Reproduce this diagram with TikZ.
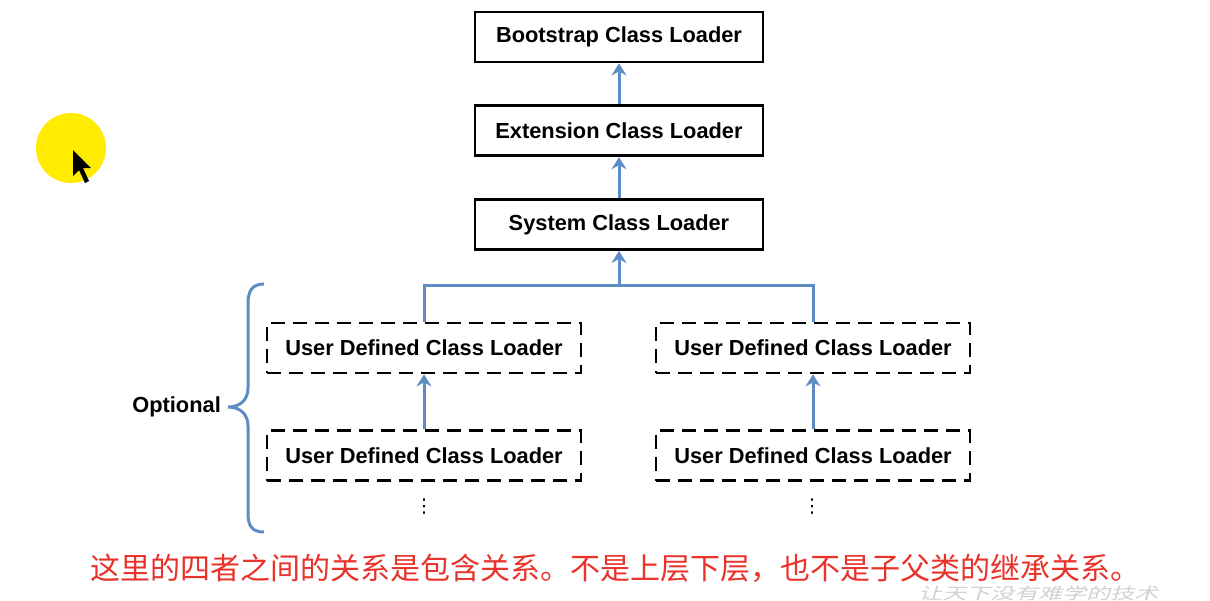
\documentclass[tikz,border=0pt]{standalone}
\usepackage{fontspec}
\setmainfont{Liberation Sans}
\newfontfamily\cjkfont{Noto Sans CJK SC}
\newfontfamily\markfont[FakeSlant=0.2]{Noto Sans CJK SC}
\newfontfamily\symfont{DejaVu Sans}
\usepackage{xcolor}
\usepackage{tikz}
\usetikzlibrary{arrows.meta,positioning}

\definecolor{linkblue}{RGB}{94,141,197}
\definecolor{notered}{RGB}{232,50,42}
\definecolor{spot}{RGB}{255,236,0}

\begin{document}
\begin{tikzpicture}[
  x=1pt, y=-1pt,
  node distance=41pt,
  loader/.style={draw, line width=2.8pt, minimum width=288pt, minimum height=50pt, font=\fontsize{21.8}{24}\selectfont\bfseries},
  userloader/.style={loader, dash pattern=on 14pt off 8pt, minimum width=314pt},
  link/.style={line width=3pt, linkblue},
  arr/.style={link, -{Stealth[length=12pt,width=15pt,inset=4pt]}},
  more/.style={inner sep=0, font=\symfont\fontsize{19}{20}\selectfont}
]
\useasboundingbox[fill=white] (0,0) rectangle (1210,600);

% cursor highlight
\fill[spot] (71,148) circle (35pt);
\fill[black] (73,150) -- (73,176) -- (79,170) -- (85,183) -- (89,181) -- (83,168) -- (91,168) -- cycle;

% loader chain
\node[loader] (boot) at (619,37) {Bootstrap Class Loader};
\node[loader, below=of boot] (ext) {Extension Class Loader};
\node[loader, below=of ext] (sys) {System Class Loader};

\node[userloader] (ul1) at (424,348) {User Defined Class Loader};
\node[userloader, below=55pt of ul1] (ul2) {User Defined Class Loader};
\node[userloader] (ur1) at (813,348) {User Defined Class Loader};
\node[userloader, below=55pt of ur1] (ur2) {User Defined Class Loader};

\node[more] (ldots) at (424,507) {⋮};
\node[more] (rdots) at (812,507) {⋮};

\draw[arr] (ext) -- (boot);
\draw[arr] (sys) -- (ext);
\coordinate (fork) at (619,285);
\draw[link] (ul1.north) |- (fork) -| (ur1.north);
\draw[arr] (fork) -- (sys);
\draw[arr] (ul2) -- (ul1);
\draw[arr] (ur2) -- (ur1);

% brace
\coordinate (tip) at (228,407);
\draw[link] (264,284) .. controls (252,284) and (248,291) .. (248,304) -- (248,388)
  .. controls (248,400) and (240,407) .. (tip)
  .. controls (240,407) and (248,414) .. (248,426) -- (248,513)
  .. controls (248,526) and (252,532) .. (264,532);
\node[left=7pt of tip, inner sep=0, font=\fontsize{21.8}{24}\selectfont\bfseries] (opt) {Optional};

\node[anchor=west, inner sep=0, text=notered, font=\cjkfont\fontsize{30}{32}\selectfont] (note) at (90,568)
  {这里的四者之间的关系是包含关系。不是上层下层，也不是子父类的继承关系。};
\node[anchor=west, inner sep=0, xscale=1.5, transform shape, text=black!18, font=\markfont\fontsize{16}{17}\selectfont] (mark) at (918,593)
  {让天下没有难学的技术};
\end{tikzpicture}
\end{document}
